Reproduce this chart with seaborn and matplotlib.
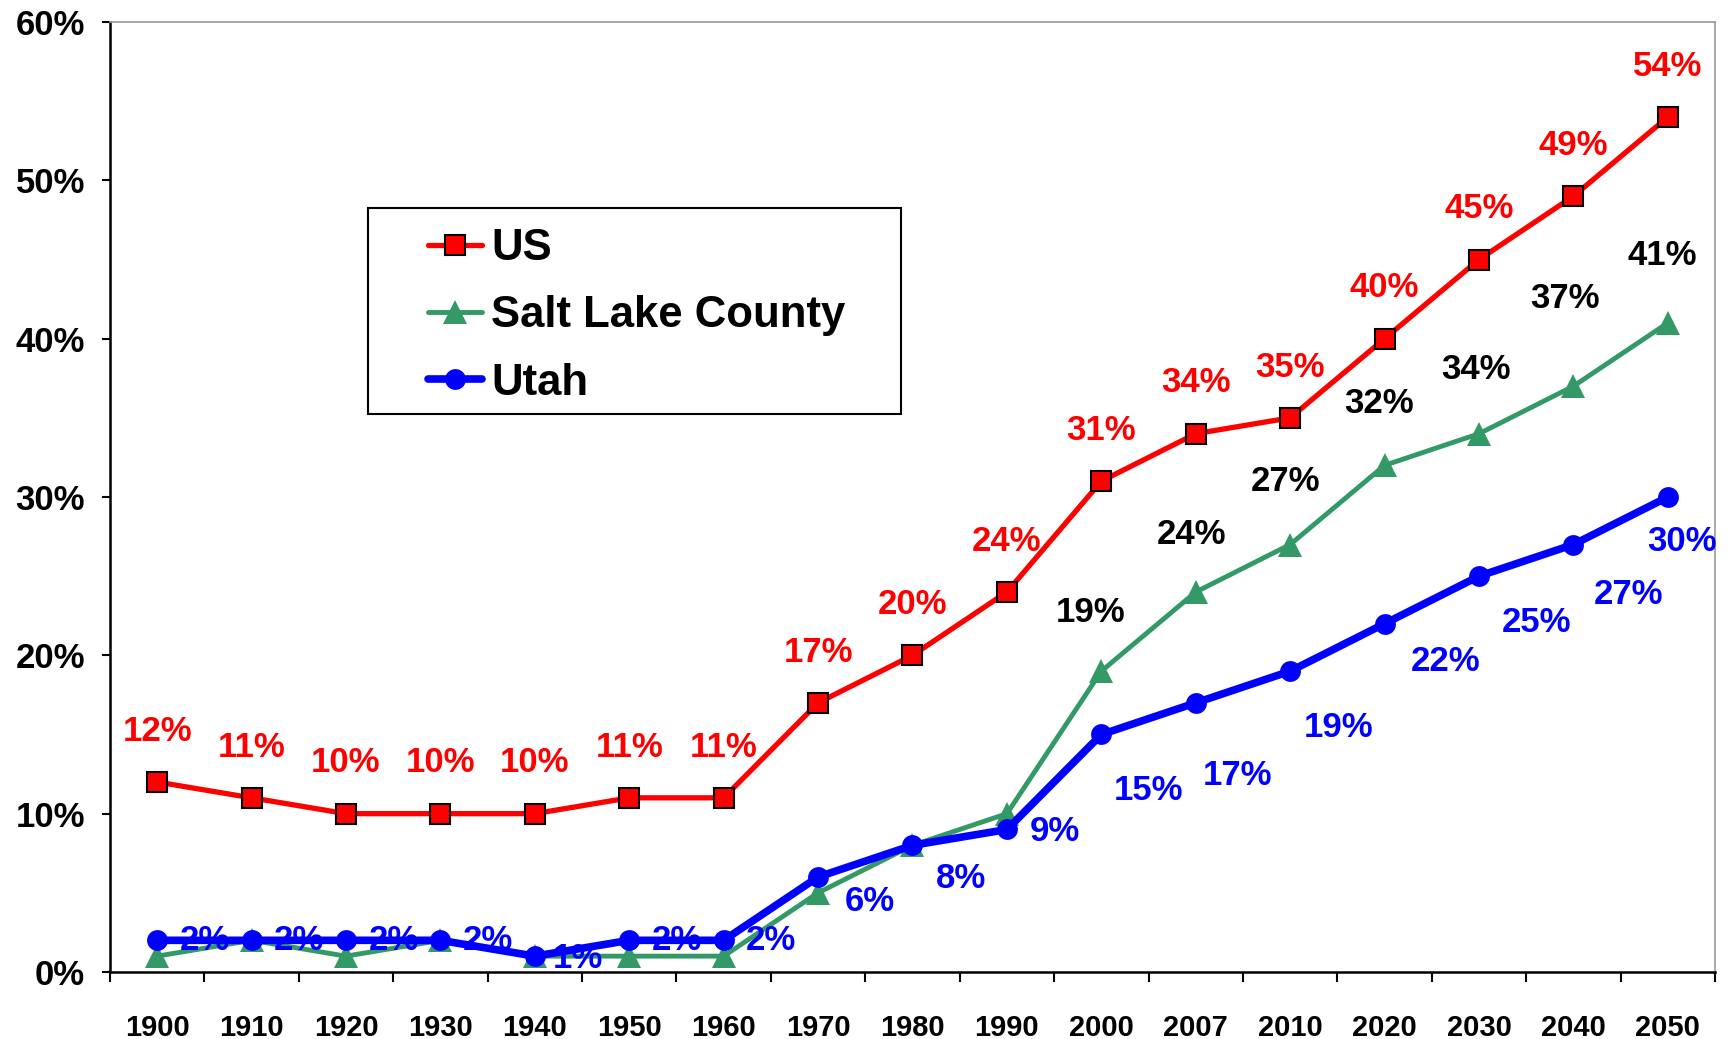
import matplotlib
matplotlib.use("Agg")
import matplotlib.pyplot as plt
from matplotlib.patches import Rectangle
import seaborn as sns
import pandas as pd
import numpy as np

# ---- data ----
years = ["1900", "1910", "1920", "1930", "1940", "1950", "1960", "1970", "1980",
         "1990", "2000", "2007", "2010", "2020", "2030", "2040", "2050"]
us = [12, 11, 10, 10, 10, 11, 11, 17, 20, 24, 31, 34, 35, 40, 45, 49, 54]
salt_lake = [1, 2, 1, 2, 1, 1, 1, 5, 8, 10, 19, 24, 27, 32, 34, 37, 41]
utah = [2, 2, 2, 2, 1, 2, 2, 6, 8, 9, 15, 17, 19, 22, 25, 27, 30]
y_ticks = [0, 10, 20, 30, 40, 50, 60]

# ---- label placement (offsets in points; styling only) ----
K = 0.795
us_off = [(0, 46 * K)] * len(years)
slc_show = [False] * 10 + [True] * 7
slc_off = [(0, 0)] * 10 + [(-10 * K, 53 * K), (-4 * K, 52 * K), (-4 * K, 57 * K),
                           (-5 * K, 56 * K), (-3 * K, 58 * K), (-8 * K, 79 * K),
                           (-5 * K, 61 * K)]
ut_off_px = [(43, 0), (43, 0), (43, 0), (43, 0), (39, -2), (43, 0), (43, 0),
             (47, -22), (44, -30), (43, -2), (43, -51), (38, -66), (44, -51),
             (55, -34), (52, -42), (50, -45), (13, -40)]
ut_off = [(a * K, b * K) for a, b in ut_off_px]

sns.set_theme(style="white")
plt.rcParams["font.family"] = ["Liberation Sans", "DejaVu Sans"]
plt.rcParams["font.weight"] = "bold"
for k in ["text.color", "xtick.color", "ytick.color", "axes.labelcolor"]:
    plt.rcParams[k] = "black"

x = np.arange(len(years))
df = pd.DataFrame({"x": x, "US": us, "Salt Lake County": salt_lake, "Utah": utah})

fig = plt.figure(figsize=(17.31, 10.39), dpi=100)
ax = fig.add_axes([0.0635, 0.0645, 0.9273, 0.9143])

RED, GREEN, BLUE = "#FF0000", "#339966", "#0000FF"

sns.lineplot(data=df, x="x", y="US", ax=ax, color=RED, lw=3.8, marker="s",
             markersize=15, markerfacecolor=RED, markeredgecolor="black",
             markeredgewidth=1.5, label="US", zorder=3)
sns.lineplot(data=df, x="x", y="Salt Lake County", ax=ax, color=GREEN, lw=3.5,
             marker="^", markersize=17, markerfacecolor=GREEN, markeredgecolor=GREEN,
             markeredgewidth=0, label="Salt Lake County", zorder=2)
sns.lineplot(data=df, x="x", y="Utah", ax=ax, color=BLUE, lw=5.5, marker="o",
             markersize=15, markerfacecolor=BLUE, markeredgecolor=BLUE,
             markeredgewidth=0, label="Utah", zorder=4)

lab_fs = 25
for i in range(len(years)):
    ax.annotate(f"{us[i]}%", (x[i], us[i]), xytext=us_off[i], textcoords="offset points",
                ha="center", va="center", color=RED, fontsize=lab_fs, fontweight="bold",
                zorder=6, annotation_clip=False)
    if slc_show[i]:
        ax.annotate(f"{salt_lake[i]}%", (x[i], salt_lake[i]), xytext=slc_off[i],
                    textcoords="offset points", ha="center", va="center", color="black",
                    fontsize=lab_fs, fontweight="bold", zorder=6, annotation_clip=False)
    ax.annotate(f"{utah[i]}%", (x[i], utah[i]), xytext=ut_off[i], textcoords="offset points",
                ha="center", va="center", color=BLUE, fontsize=lab_fs, fontweight="bold",
                zorder=6, annotation_clip=False)

ax.set_xlim(-0.5, len(years) - 0.5)
ax.set_ylim(0, 60)
ax.set_xlabel("")
ax.set_ylabel("")

# x ticks: marks at category boundaries, labels at centres
ax.set_xticks(np.arange(-0.5, len(years), 1.0))
ax.set_xticklabels([])
ax.set_xticks(x, minor=True)
ax.set_xticklabels(years, minor=True, fontsize=21, fontweight="bold")
ax.tick_params(axis="x", which="major", direction="out", length=7, width=1.5,
               color="black", bottom=True)
ax.tick_params(axis="x", which="minor", length=0, pad=30, bottom=True)

ax.set_yticks(y_ticks)
ax.set_yticklabels([f"{v}%" for v in y_ticks], fontsize=25, fontweight="bold")
ax.tick_params(axis="y", direction="out", length=6, width=1.5, color="black",
               pad=12, left=True)

for s in ["left", "bottom"]:
    ax.spines[s].set_color("black")
    ax.spines[s].set_linewidth(1.8)
for s in ["top", "right"]:
    ax.spines[s].set_color("#999999")
    ax.spines[s].set_linewidth(1.2)
ax.grid(False)

# legend frame drawn separately so the inner padding can differ per side
ax.add_patch(Rectangle((0.161, 0.587), 0.332, 0.217, transform=ax.transAxes,
                       facecolor="white", edgecolor="black", lw=1.5, zorder=7))
leg = ax.legend(loc="upper left", bbox_to_anchor=(0.198, 0.783), frameon=False,
                prop={"weight": "bold", "size": 31.5},
                handlelength=1.25, handletextpad=0.2, borderpad=0,
                labelspacing=0.6, borderaxespad=0)
leg.set_zorder(8)

fig.savefig("out.png", dpi=100)
